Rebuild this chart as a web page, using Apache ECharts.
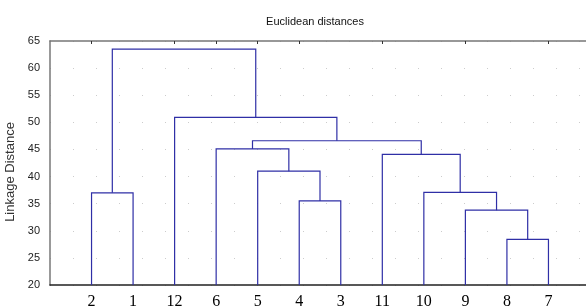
<!DOCTYPE html>
<html>
<head>
<meta charset="utf-8">
<script src="https://cdn.jsdelivr.net/npm/echarts@6/dist/echarts.min.js"></script>
<style>
  html, body { margin: 0; padding: 0; background: #fff; }
  #chart { width: 586px; height: 308px; }
</style>
</head>
<body>
<div id="chart"></div>
<script>
// leaf order along the x axis
const leaves = ['2', '1', '12', '6', '5', '4', '3', '11', '10', '9', '8', '7']
// merge steps: [clusterA, clusterB, linkage distance], new cluster ids start at leaves.length
const merges = [
  [0, 1, 37.0],
  [10, 11, 28.4],
  [9, 13, 33.8],
  [8, 14, 37.1],
  [7, 15, 44.1],
  [5, 6, 35.5],
  [4, 17, 41.0],
  [3, 18, 45.1],
  [19, 16, 46.6],
  [2, 20, 50.9],
  [12, 21, 63.5]
]
const yTicks = [20, 25, 30, 35, 40, 45, 50, 55, 60, 65]
const topTickPos = [1, 3, 4, 5, 6, 8, 10, 12]

// position/height of every cluster, leaves sit at x = 1..12, height = axis min
const nodes = leaves.map((name, i) => ({ x: i + 1, h: yTicks[0] }))
const links = []
merges.forEach(([a, b, h]) => {
  const na = nodes[a]
  const nb = nodes[b]
  links.push([na.x, na.h, na.x, h, nb.x, h, nb.x, nb.h])
  nodes.push({ x: (na.x + nb.x) / 2, h: h })
})

const chart = echarts.init(document.getElementById('chart'), null, { renderer: 'canvas' })
const axisTextColor = '#222'

chart.setOption({
  animation: false,
  title: {
    text: 'Euclidean distances',
    left: 310,
    top: 11,
    textAlign: 'center',
    textStyle: { fontFamily: 'Arial, Liberation Sans', fontSize: 11, fontWeight: 'normal', color: '#111' }
  },
  grid: { left: 50, top: 41, width: 540, height: 244, outerBoundsMode: 'none', containLabel: false },
  xAxis: [
    {
      type: 'value',
      min: 0,
      max: 13,
      interval: 1,
      axisLine: { show: true, lineStyle: { color: '#222', width: 1.5 } },
      axisTick: { show: false },
      splitLine: { show: false },
      axisLabel: {
        color: '#000',
        fontFamily: 'Times New Roman, Liberation Serif, serif',
        fontSize: 16,
        margin: 9,
        formatter: (v) => leaves[v - 1] || ''
      }
    },
    {
      type: 'value',
      position: 'top',
      min: 0,
      max: 13,
      axisLine: { show: true, onZero: false, lineStyle: { color: '#777', width: 1.5 } },
      axisTick: { show: true, inside: true, length: 3, customValues: topTickPos, lineStyle: { color: '#333' } },
      axisLabel: { show: false },
      splitLine: { show: false }
    }
  ],
  yAxis: {
    type: 'value',
    min: 20,
    max: 65,
    interval: 5,
    name: 'Linkage Distance',
    nameLocation: 'middle',
    nameGap: 22,
    nameTextStyle: { color: '#333', fontFamily: 'Arial, Liberation Sans', fontSize: 13, padding: [0, 18, 0, 0] },
    axisLine: { show: true, lineStyle: { color: '#777', width: 1.5 } },
    axisTick: { show: false },
    axisLabel: { color: axisTextColor, fontFamily: 'Arial, Liberation Sans', fontSize: 11, margin: 10 },
    splitLine: { show: true, lineStyle: { color: '#ccc', type: [1, 22], width: 1 } }
  },
  series: [
    {
      type: 'custom',
      coordinateSystem: 'cartesian2d',
      data: links,
      encode: { x: [0, 2, 4, 6], y: [1, 3, 5, 7] },
      renderItem: (params, api) => {
        const pts = []
        for (let i = 0; i < 4; i++) {
          pts.push(api.coord([api.value(i * 2), api.value(i * 2 + 1)]))
        }
        return {
          type: 'polyline',
          shape: { points: pts },
          style: { stroke: '#2f2fa6', lineWidth: 1.2, fill: null }
        }
      }
    }
  ]
})
</script>
</body>
</html>
